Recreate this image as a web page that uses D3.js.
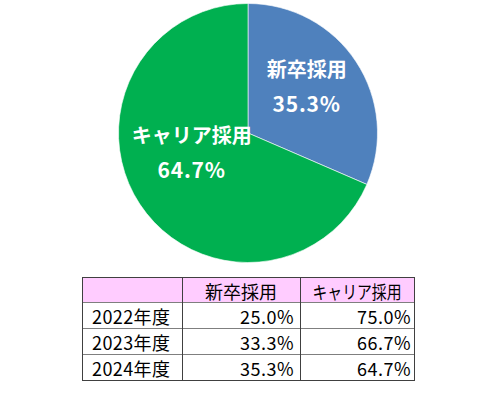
<!DOCTYPE html>
<html>
<head>
<meta charset="utf-8">
<script src="https://cdn.jsdelivr.net/npm/d3@7"></script>
<style>
  body { margin: 0; background: #fff; }
  svg { display: block; }
</style>
</head>
<body>
<svg width="484" height="396"></svg>
<script>
// data
var years = ["2022年度", "2023年度", "2024年度"];
var seriesNames = ["新卒採用", "キャリア採用"];
var newGrad = [25.0, 33.3, 35.3];
var career = [75.0, 66.7, 64.7];
// slice sizes as drawn in the pie
var pieShares = [31.5, 68.5];
var pieColors = ["#4F81BD", "#00B050"];

var svg = d3.select("svg");
var font = "'Noto Sans CJK JP', 'Noto Sans', sans-serif";

// pie
var cx = 248, cy = 133, r = 129.5;
var g = svg.append("g").attr("transform", "translate(" + cx + "," + cy + ")");

var pie = d3.pie().sort(null).value(function (d) { return d; });
var arc = d3.arc().innerRadius(0).outerRadius(r);
var arcs = pie(pieShares);

g.selectAll("path")
    .data(arcs)
    .enter()
    .append("path")
    .attr("d", arc)
    .attr("fill", function (d, i) { return pieColors[i]; })
    .attr("stroke", "#fff")
    .attr("stroke-width", 0.6);

// labels
var labelRadius = [75, 59];
var labelShift = [[-4, -5], [-7, -12]];
var last = years.length - 1;
var pieLabelValues = [newGrad[last], career[last]];

arcs.forEach(function (d, i) {
    var a = (d.startAngle + d.endAngle) / 2;
    var x = Math.sin(a) * labelRadius[i] + labelShift[i][0];
    var y = -Math.cos(a) * labelRadius[i] + labelShift[i][1];
    var t = g.append("text")
        .attr("x", x)
        .attr("y", y)
        .attr("text-anchor", "middle")
        .attr("fill", "#fff")
        .attr("font-family", font)
        .attr("font-weight", "bold");
    t.append("tspan").attr("x", x).attr("dy", -10)
        .attr("font-size", 20).text(seriesNames[i]);
    t.append("tspan").attr("x", x).attr("dy", 35)
        .attr("font-size", 21).attr("letter-spacing", 0.8)
        .text(pieLabelValues[i].toFixed(1) + "%");
});

// table
var tx = 82, ty = 277;
var colW = [100, 118, 114];
var rowH = [25, 26, 26, 26];
var colX = [tx];
colW.forEach(function (w, i) { colX.push(colX[i] + w); });
var rowY = [ty];
rowH.forEach(function (h, i) { rowY.push(rowY[i] + h); });
var tw = colX[colX.length - 1] - tx, th = rowY[rowY.length - 1] - ty;

var tg = svg.append("g");
tg.append("rect")
    .attr("x", tx).attr("y", ty)
    .attr("width", tw).attr("height", rowH[0])
    .attr("fill", "#FFCCFF");

// inner lines
rowY.slice(1, -1).forEach(function (y) {
    tg.append("line").attr("x1", tx).attr("x2", tx + tw)
        .attr("y1", y + 0.5).attr("y2", y + 0.5)
        .attr("stroke", "#7f7f7f").attr("stroke-width", 1);
});
colX.slice(1, -1).forEach(function (x) {
    tg.append("line").attr("y1", ty).attr("y2", ty + th)
        .attr("x1", x + 0.5).attr("x2", x + 0.5)
        .attr("stroke", "#404040").attr("stroke-width", 1);
});
tg.append("rect")
    .attr("x", tx + 0.5).attr("y", ty + 0.5)
    .attr("width", tw).attr("height", th)
    .attr("fill", "none").attr("stroke", "#404040").attr("stroke-width", 1);

function cellText(txt, x, y, anchor, len) {
    var t = tg.append("text")
        .attr("x", x).attr("y", y)
        .attr("text-anchor", anchor)
        .attr("dominant-baseline", "central")
        .attr("fill", "#000")
        .attr("font-family", font)
        .attr("font-size", 18)
        .text(txt);
    if (len) t.attr("textLength", len).attr("lengthAdjust", "spacingAndGlyphs");
    return t;
}

var headerLen = [72, 89];
seriesNames.forEach(function (s, i) {
    cellText(s, (colX[i + 1] + colX[i + 2]) / 2, (rowY[0] + rowY[1]) / 2 + 1, "middle", headerLen[i]);
});
years.forEach(function (yr, j) {
    var yc = (rowY[j + 1] + rowY[j + 2]) / 2 + 1;
    cellText(yr, colX[0] + 10, yc, "start").attr("letter-spacing", 0.4);
    cellText(newGrad[j].toFixed(1) + "%", colX[2] - 6, yc, "end").attr("letter-spacing", 0.5);
    cellText(career[j].toFixed(1) + "%", colX[3] - 3, yc, "end").attr("letter-spacing", 0.5);
});
</script>
</body>
</html>
